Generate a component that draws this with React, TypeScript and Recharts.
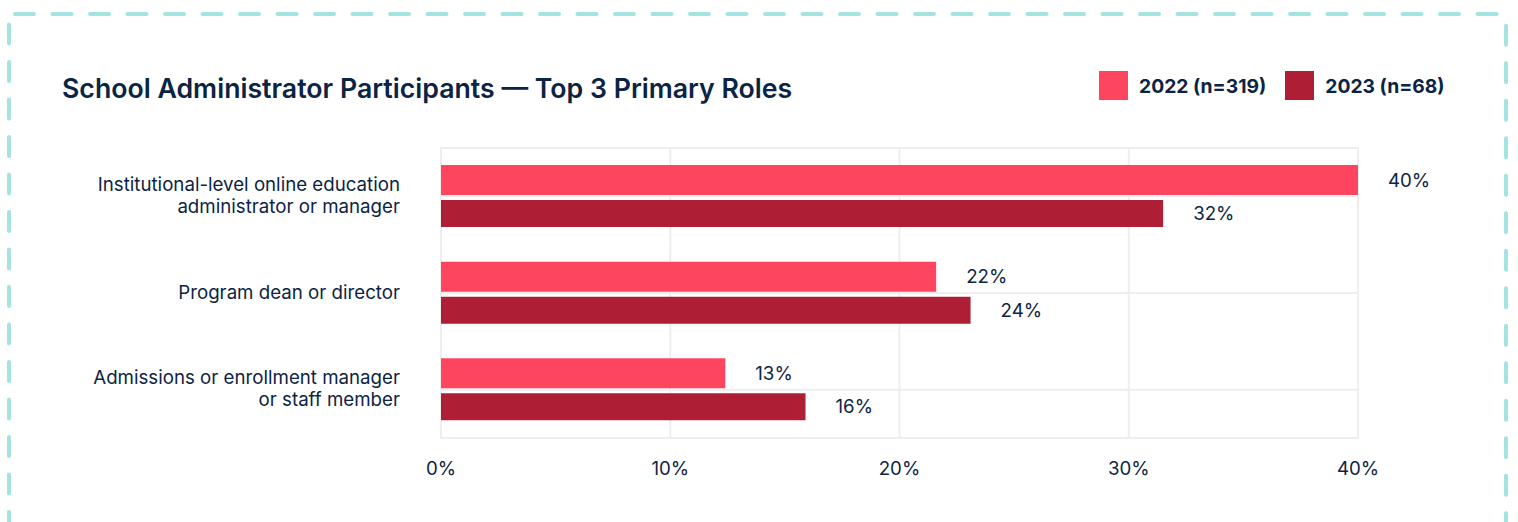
import React from 'react'
import { BarChart, Bar, XAxis, YAxis, CartesianGrid, LabelList, ReferenceArea } from 'recharts'

// chart values
const categories = [
  'Institutional-level online education\nadministrator or manager',
  'Program dean or director',
  'Admissions or enrollment manager\nor staff member',
]
const values2022 = [40, 21.6, 12.4]
const values2023 = [31.5, 23.1, 15.9]
const labels2022 = ['40%', '22%', '13%']
const labels2023 = ['32%', '24%', '16%']
const xTicks = [0, 10, 20, 30, 40]
const seriesNames = ['2022 (n=319)', '2023 (n=68)']
const seriesColors = ['#FE4560', '#AE1F35']

const TEXT = '#0c2444'
const FONT = 'Inter, "Noto Sans", sans-serif'
const FS = 18.7

const chartData = categories.map((name, i) => ({
  name,
  v2022: values2022[i],
  v2023: values2023[i],
  l2022: labels2022[i],
  l2023: labels2023[i],
}))

const CategoryTick = ({ x, y, payload }: any) => {
  const lines = String(payload.value).split('\n')
  return (
    <text x={x} y={y} textAnchor="end" fill={TEXT} fontSize={FS} fontFamily={FONT}>
      {lines.map((line, i) => (
        <tspan key={i} x={x} y={y + (i - (lines.length - 1) / 2) * 22 - 1} dy="0.35em">
          {line}
        </tspan>
      ))}
    </text>
  )
}

const App = () => {
  return (
    <div style={{ position: 'absolute', left: 0, top: 0, width: 1518, height: 522, overflow: 'hidden', background: '#fff', fontFamily: FONT }}>
      <svg width={1518} height={522} style={{ position: 'absolute', left: 0, top: 0 }}>
        <rect
          x={9}
          y={14}
          width={1497}
          height={700}
          rx={6}
          fill="none"
          stroke="#A3E4E1"
          strokeWidth={4}
          strokeDasharray="19 18.5"
          strokeLinecap="round"
        />
      </svg>

      <div style={{ position: 'absolute', left: 62, top: 75, fontSize: 26.7, lineHeight: '26.5px', fontWeight: 600, color: TEXT, whiteSpace: 'nowrap' }}>
        School Administrator Participants — Top 3 Primary Roles
      </div>

      <div style={{ position: 'absolute', left: 1099, top: 71, display: 'flex', alignItems: 'center' }}>
        {seriesNames.map((s, i) => (
          <div key={s} style={{ display: 'flex', alignItems: 'center', marginRight: 19 }}>
            <div style={{ width: 29, height: 29, background: seriesColors[i], marginRight: 11 }} />
            <span style={{ fontSize: 19.3, fontWeight: 700, color: TEXT, whiteSpace: 'nowrap' }}>{s}</span>
          </div>
        ))}
      </div>

      <div style={{ position: 'absolute', left: 0, top: 0 }}>
        <BarChart
          width={1518}
          height={522}
          data={chartData}
          layout="vertical"
          margin={{ top: 148, right: 160, bottom: 54, left: 0 }}
          barGap={5}
        >
          <CartesianGrid stroke="#EEEEEE" strokeWidth={2} />
          <ReferenceArea x1={0} x2={40} fill="none" stroke="#EEEEEE" strokeWidth={2} fillOpacity={0} />
          <XAxis
            type="number"
            domain={[0, 40]}
            ticks={xTicks}
            tickFormatter={(v: number) => `${v}%`}
            axisLine={false}
            tickLine={false}
            tickMargin={18}
            tick={{ fill: TEXT, fontSize: FS, fontFamily: FONT }}
          />
          <YAxis
            type="category"
            dataKey="name"
            width={441}
            axisLine={false}
            tickLine={false}
            tickMargin={35}
            tick={<CategoryTick />}
            interval={0}
          />
          <Bar dataKey="v2022" fill={seriesColors[0]} barSize={30} isAnimationActive={false}>
            <LabelList dataKey="l2022" position="right" offset={30} fill={TEXT} fontSize={FS} fontFamily={FONT} />
          </Bar>
          <Bar dataKey="v2023" fill={seriesColors[1]} barSize={27} isAnimationActive={false}>
            <LabelList dataKey="l2023" position="right" offset={30} fill={TEXT} fontSize={FS} fontFamily={FONT} />
          </Bar>
        </BarChart>
      </div>
    </div>
  )
}

export default App
